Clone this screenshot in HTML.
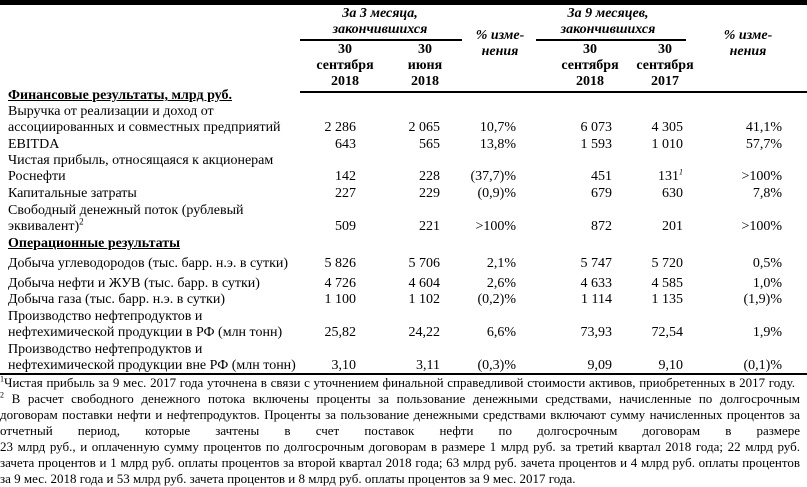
<!DOCTYPE html>
<html><head><meta charset="utf-8"><style>
body{margin:0;width:807px;height:485px;background:#fff;position:relative;overflow:hidden;font-family:"Liberation Serif","Noto Serif CJK SC",serif;font-size:14px;color:#000}
.t{position:absolute;white-space:nowrap;line-height:16px}
.r{text-align:right}
.c{text-align:center;transform:translateX(-50%)}
.h{font-weight:bold;font-style:italic}
.b{font-weight:bold}
.ln{position:absolute;background:#000}
.fl{position:absolute;left:0;width:800px;line-height:16px;font-size:13px;white-space:nowrap;text-align:justify;text-align-last:justify}
</style></head><body>
<div class="ln" style="left:0;top:0;width:807px;height:5px"></div>
<div class="t c h" style="left:380px;top:6px">За 3 месяца,</div>
<div class="t c h" style="left:380px;top:22px">закончившихся</div>
<div class="ln" style="left:300px;top:39px;width:162px;height:2px"></div>
<div class="t c h" style="left:500px;top:28px;line-height:16px">% изме-<br>нения</div>
<div class="t c h" style="left:608px;top:6px">За 9 месяцев,</div>
<div class="t c h" style="left:608px;top:22px">закончившихся</div>
<div class="ln" style="left:536px;top:39px;width:150px;height:2px"></div>
<div class="t c h" style="left:748px;top:28px">% изме-<br>нения</div>
<div class="t c b" style="left:345px;top:42px;text-align:center">30<br>сентября<br>2018</div>
<div class="t c b" style="left:425px;top:42px;text-align:center">30<br>июня<br>2018</div>
<div class="t c b" style="left:590px;top:42px;text-align:center">30<br>сентября<br>2018</div>
<div class="t c b" style="left:665px;top:42px;text-align:center">30<br>сентября<br>2017</div>
<div class="ln" style="left:300px;top:91px;width:507px;height:2px"></div>

<div class="t b" style="left:8px;top:88px;text-decoration:underline">Финансовые результаты,  млрд руб.</div>
<div class="t" style="left:8px;top:104px">Выручка от реализации и доход от<br>ассоциированных и совместных предприятий</div>
<div class="t" style="left:8px;top:137px">EBITDA</div>
<div class="t" style="left:8px;top:153px">Чистая прибыль, относящаяся к акционерам<br>Роснефти</div>
<div class="t" style="left:8px;top:186px">Капитальные затраты</div>
<div class="t" style="left:8px;top:203px">Свободный денежный поток (рублевый<br>эквивалент)<sup style="font-size:9px;line-height:0">2</sup></div>
<div class="t b" style="left:8px;top:236px;text-decoration:underline">Операционные результаты</div>
<div class="t" style="left:8px;top:256px">Добыча углеводородов (тыс. барр. н.э. в сутки)</div>
<div class="t" style="left:8px;top:276px">Добыча нефти и ЖУВ (тыс. барр. в сутки)</div>
<div class="t" style="left:8px;top:292px">Добыча газа (тыс. барр. н.э. в сутки)</div>
<div class="t" style="left:8px;top:309px">Производство нефтепродуктов и<br>нефтехимической продукции в РФ (млн тонн)</div>
<div class="t" style="left:8px;top:342px">Производство нефтепродуктов и<br>нефтехимической продукции вне РФ (млн тонн)</div>

<div id="nums"></div>
<div class="ln" style="left:0;top:373px;width:807px;height:2px"></div>

<div class="fl" style="top:375px;width:795px"><sup style="font-size:8px;line-height:0">1</sup>Чистая прибыль за 9 мес. 2017 года уточнена в связи с уточнением финальной справедливой стоимости активов, приобретенных в 2017 году.</div>
<div class="fl" style="top:391px"><sup style="font-size:8px;line-height:0">2</sup> В расчет свободного денежного потока включены проценты за пользование денежными средствами, начисленные по долгосрочным</div>
<div class="fl" style="top:407px">договорам поставки нефти и нефтепродуктов. Проценты за пользование денежными средствами включают сумму начисленных процентов за</div>
<div class="fl" style="top:423px">отчетный период, которые зачтены в счет поставок нефти по долгосрочным договорам в размере</div>
<div class="fl" style="top:439px">23 млрд руб., и оплаченную сумму процентов по долгосрочным договорам в размере 1 млрд руб. за третий квартал 2018 года; 22 млрд руб.</div>
<div class="fl" style="top:455px">зачета процентов и 1 млрд руб. оплаты процентов за второй квартал 2018 года; 63 млрд руб. зачета процентов и 4 млрд руб. оплаты процентов</div>
<div class="fl" style="top:471px;text-align-last:left">за 9 мес. 2018 года и 53 млрд руб. зачета процентов и 8 млрд руб. оплаты процентов за 9 мес. 2017 года.</div>

<script>
var rows=[[120,"2 286","2 065","10,7%","6 073","4 305","41,1%"],
[137,"643","565","13,8%","1 593","1 010","57,7%"],
[169,"142","228","(37,7)%","451","131<sup style='font-size:8px;line-height:0'><i>1</i></sup>",">100%"],
[186,"227","229","(0,9)%","679","630","7,8%"],
[219,"509","221",">100%","872","201",">100%"],
[256,"5 826","5 706","2,1%","5 747","5 720","0,5%"],
[276,"4 726","4 604","2,6%","4 633","4 585","1,0%"],
[292,"1 100","1 102","(0,2)%","1 114","1 135","(1,9)%"],
[325,"25,82","24,22","6,6%","73,93","72,54","1,9%"],
[358,"3,10","3,11","(0,3)%","9,09","9,10","(0,1)%"]];
var rx=[356,440,516,612,683,782],h="";
rows.forEach(function(r){for(var i=0;i<6;i++){var x=rx[i];
h+='<div class="t r" style="right:'+(807-x)+'px;top:'+r[0]+'px">'+r[i+1]+'</div>';}});
document.getElementById("nums").innerHTML=h;
</script>
</body></html>
